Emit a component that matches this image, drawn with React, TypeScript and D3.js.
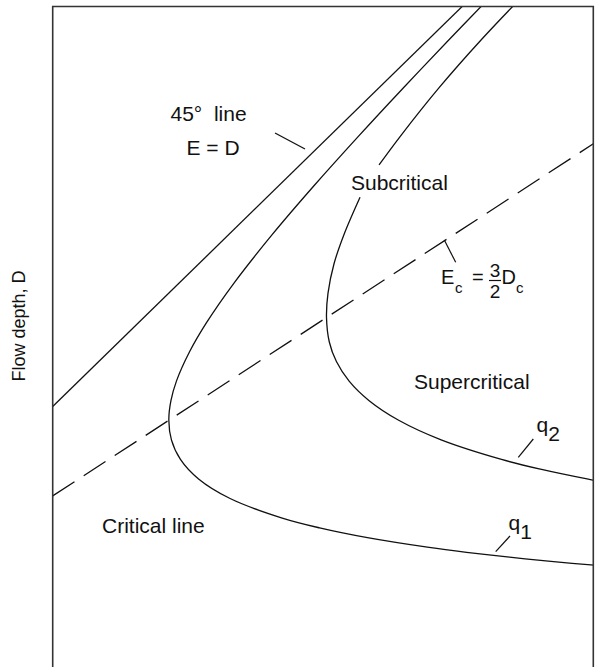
import React from "react";
import * as d3 from "d3";

// specific energy diagram: E (x) against flow depth D (y), no ticks
type Pt = { e: number; d: number };

const q1Depth = [6.9, 6.5, 6.0, 5.5, 5.0, 4.5, 4.0, 3.6, 3.3, 3.0, 2.8, 2.6, 2.4, 2.2, 2.0, 1.8, 1.6, 1.5, 1.4, 1.3, 1.25, 1.2, 1.16, 1.11];
const q1Energy = [7.085, 6.708, 6.244, 5.791, 5.352, 4.934, 4.549, 4.278, 4.107, 3.976, 3.921, 3.9, 3.926, 4.016, 4.197, 4.512, 5.033, 5.406, 5.884, 6.5, 6.874, 7.303, 7.691, 8.243];

// q2 is broken where the "Subcritical" label sits
const q2UpperDepth = [6.9, 6.5, 6.0, 5.5, 5.21];
const q2UpperEnergy = [7.4, 7.03, 6.6, 6.21, 6.0];
const q2LowerDepth = [4.88, 4.5, 4.2, 3.9, 3.65, 3.4, 3.2, 3.0, 2.8, 2.6, 2.4, 2.2, 2.1, 2.0, 1.95];
const q2LowerEnergy = [5.81, 5.65, 5.55, 5.49, 5.475, 5.503, 5.574, 5.701, 5.901, 6.196, 6.62, 7.223, 7.612, 8.078, 8.343];

const lineE = [2.74, 6.9]; // E = D
const criticalE = [2.74, 8.14]; // Ec = 3/2 Dc

const eDomain = [2.74, 8.14];
const dDomain = [0, 6.83];

const font = "'Liberation Sans', Arial, Helvetica, sans-serif";

const zip = (es: number[], ds: number[]): Pt[] => es.map((e, i) => ({ e, d: ds[i] }));

export default function App() {
  const left = 52.7, right = 593.3, top = 6.5, bottom = 674.6;
  const x = d3.scaleLinear().domain(eDomain).range([left, right]);
  const y = d3.scaleLinear().domain(dDomain).range([bottom, top]);

  const smooth = d3.line<Pt>().x((p) => x(p.e)).y((p) => y(p.d)).curve(d3.curveCatmullRom.alpha(0.5));
  const straight = d3.line<Pt>().x((p) => x(p.e)).y((p) => y(p.d));

  const q1 = zip(q1Energy, q1Depth);
  const q2a = zip(q2UpperEnergy, q2UpperDepth);
  const q2b = zip(q2LowerEnergy, q2LowerDepth);
  const diag = lineE.map((e) => ({ e, d: e }));
  const crit = criticalE.map((e) => ({ e, d: (2 / 3) * e }));

  const ink = "#111";

  return (
    <svg width={600} height={667} style={{ position: "absolute", left: 0, top: 0 }} fontFamily={font}>
      <defs>
        <clipPath id="frame">
          <rect x={left} y={top} width={right - left} height={667 - top} />
        </clipPath>
      </defs>

      <g clipPath="url(#frame)" fill="none" stroke={ink} strokeWidth={1.3}>
        <path d={straight(diag) as string} />
        <path d={straight(crit) as string} strokeDasharray="26 11" />
        <path d={smooth(q1) as string} />
        <path d={smooth(q2a) as string} />
        <path d={smooth(q2b) as string} />
      </g>

      {/* frame: no bottom edge in the figure */}
      <path d={`M${left},667V${top}H${right}V667`} fill="none" stroke="#333" strokeWidth={1.6} />

      {/* leaders */}
      <g stroke={ink} strokeWidth={1.2}>
        <line x1={275} y1={133} x2={305} y2={149} />
        <line x1={444.3} y1={240} x2={455.7} y2={262.3} />
        <line x1={533.3} y1={439} x2={518.3} y2={457.3} />
        <line x1={510} y1={536} x2={495.7} y2={551.7} />
      </g>

      <g fill={ink} fontSize={21}>
        <text x={170.5} y={121}>{"45°\u00a0\u00a0line"}</text>
        <text x={186.5} y={155}>E = D</text>
        <text x={351} y={190}>Subcritical</text>
        <text x={414} y={389}>Supercritical</text>
        <text x={102} y={533}>Critical line</text>
        <text x={536.5} y={432}>q<tspan dy={9}>2</tspan></text>
        <text x={508.5} y={530}>q<tspan dy={9}>1</tspan></text>
      </g>

      {/* Ec = 3/2 Dc */}
      <g fill={ink}>
        <text x={441} y={284} fontSize={20}>E</text>
        <text x={455} y={293} fontSize={15}>c</text>
        <text x={472} y={284} fontSize={20}>=</text>
        <text x={495} y={277.3} fontSize={19} textAnchor="middle">3</text>
        <line x1={489} x2={501} y1={280.5} y2={280.5} stroke={ink} strokeWidth={1.2} />
        <text x={495} y={298.3} fontSize={19} textAnchor="middle">2</text>
        <text x={501.5} y={284} fontSize={20}>D</text>
        <text x={516} y={293} fontSize={15}>c</text>
      </g>

      <text transform="translate(25,326) rotate(-90)" textAnchor="middle" fontSize={18} fill={ink}>
        Flow depth, D
      </text>
    </svg>
  );
}
